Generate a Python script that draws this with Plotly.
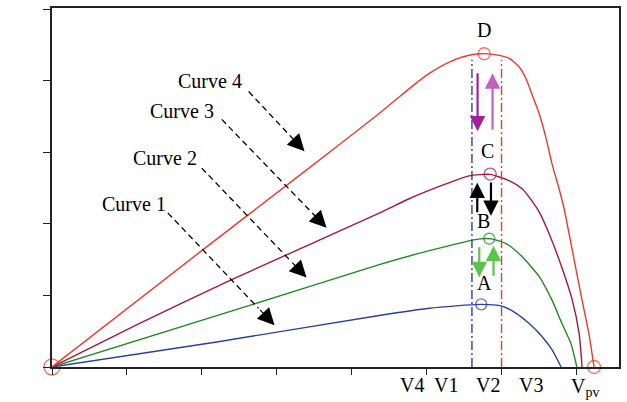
import plotly.graph_objects as go

# ---------------- data ----------------
c4_x = [0, 2.00, 3.31, 4.37, 4.60, 4.81, 5.04, 5.27, 5.48, 5.71, 5.93, 6.11, 6.24, 6.33, 6.41,
        6.51, 6.60, 6.68, 6.77, 6.84, 6.95, 7.08, 7.17, 7.24]
c4_y = [0, 1.625, 2.68, 3.54, 3.74, 3.92, 4.10, 4.24, 4.33, 4.375, 4.36, 4.31, 4.19, 4.03, 3.81,
        3.53, 3.19, 2.83, 2.50, 2.21, 1.625, 0.93, 0.47, 0]
c3_x = [0, 1.17, 2.40, 4.37, 4.77, 5.27, 5.57, 5.85, 6.11, 6.28, 6.41, 6.51, 6.64, 6.81, 6.95, 7.04, 7.08]
c3_y = [0, 0.61, 1.22, 2.15, 2.35, 2.56, 2.67, 2.69, 2.60, 2.49, 2.32, 2.16, 1.86, 1.39, 0.93, 0.47, 0]
c2_x = [0, 2.64, 4.37, 5.04, 5.71, 5.87, 6.07, 6.28, 6.51, 6.68, 6.81, 6.93, 7.01]
c2_y = [0, 0.86, 1.43, 1.625, 1.79, 1.79, 1.72, 1.54, 1.26, 0.93, 0.61, 0.33, 0]
c1_x = [0, 2.20, 4.37, 5.04, 5.73, 6.01, 6.20, 6.37, 6.55, 6.68, 6.80]
c1_y = [0, 0.35, 0.72, 0.82, 0.875, 0.85, 0.75, 0.61, 0.42, 0.24, 0]

curve_names = ["Curve 1", "Curve 2", "Curve 3", "Curve 4"]
curve_label_x = [1.093, 1.507, 1.733, 2.107]
curve_label_y = [2.278, 2.917, 3.569, 4.0]
arrow_start_x = [1.547, 2.0, 2.267, 2.627]
arrow_start_y = [2.153, 2.778, 3.458, 3.847]
arrow_tip_x = [2.973, 3.4, 3.667, 3.373]
arrow_tip_y = [0.583, 1.25, 1.944, 3.014]

point_names = ["A", "B", "C", "D"]
point_label_x = [5.773, 5.76, 5.813, 5.773]
point_label_y = [1.167, 2.042, 3.014, 4.708]

mpp_x = [0, 5.733, 5.84, 5.853, 5.773, 7.24]
mpp_y = [0, 0.875, 1.792, 2.694, 4.375, 0]

vline_x = [5.609, 6.004]
vline_top = 4.29

tick_labels = ["V4", "V1", "V2", "V3"]
tick_label_x = [4.804, 5.263, 5.817, 6.396]

# perturbation arrows: (x, y_from, y_to)
pert_x = [5.684, 5.884, 5.68, 5.863, 5.707, 5.897]
pert_from = [4.125, 3.292, 2.139, 2.597, 1.694, 1.254]
pert_to = [3.292, 4.101, 2.574, 2.111, 1.254, 1.694]
pert_color = ["#a0209e", "#c460c2", "#000000", "#000000", "#5cc44a", "#5cc44a"]

# ---------------- styles ----------------
RED = "#ea3a2c"
DRED = "#a3193c"
GREEN = "#1e8a1e"
BLUE = "#2b3fa3"
FONT = "Liberation Serif"
FS = 20

fig = go.Figure()
for xs, ys, col in [(c1_x, c1_y, BLUE), (c2_x, c2_y, GREEN), (c3_x, c3_y, DRED), (c4_x, c4_y, RED)]:
    fig.add_trace(go.Scatter(x=xs, y=ys, mode="lines",
                             line=dict(color=col, width=1.4, shape="spline", smoothing=0.6),
                             showlegend=False, hoverinfo="skip"))

fig.add_trace(go.Scatter(
    x=mpp_x, y=mpp_y, mode="markers", cliponaxis=False, showlegend=False, hoverinfo="skip",
    marker=dict(symbol="circle-open", size=[16, 11, 11, 12, 12, 13],
                color=[RED, BLUE, GREEN, DRED, RED, RED], line=dict(width=1.4))))

shapes = []
for vx, col in zip(vline_x, [BLUE, RED]):
    shapes.append(dict(type="line", x0=vx, x1=vx, y0=0, y1=vline_top, xref="x", yref="y",
                       line=dict(color=col, width=1.4, dash="9px,3px,2px,3px")))

annotations = []
for nm, lx, ly, sx, sy, tx, ty in zip(curve_names, curve_label_x, curve_label_y,
                                      arrow_start_x, arrow_start_y, arrow_tip_x, arrow_tip_y):
    annotations.append(dict(x=lx, y=ly, text=nm, showarrow=False, xref="x", yref="y",
                            font=dict(family=FONT, size=FS, color="black")))
    f = 0.85
    mx = sx + (tx - sx) * f
    my = sy + (ty - sy) * f
    shapes.append(dict(type="line", x0=sx, y0=sy, x1=mx, y1=my, xref="x", yref="y",
                       line=dict(color="black", width=1.3, dash="6px,4px")))
    annotations.append(dict(x=tx, y=ty, ax=mx, ay=my, axref="x", ayref="y", xref="x", yref="y",
                            text="", showarrow=True, arrowhead=2, arrowsize=2.6, arrowwidth=1.3,
                            arrowcolor="black", standoff=0))

for nm, lx, ly in zip(point_names, point_label_x, point_label_y):
    annotations.append(dict(x=lx, y=ly, text=nm, showarrow=False, xref="x", yref="y",
                            font=dict(family=FONT, size=FS, color="black")))

for px, y0, y1, col in zip(pert_x, pert_from, pert_to, pert_color):
    annotations.append(dict(x=px, y=y1, ax=px, ay=y0, axref="x", ayref="y", xref="x", yref="y",
                            text="", showarrow=True, arrowhead=2, arrowsize=1.4, arrowwidth=2.2,
                            arrowcolor=col, standoff=0))

for t, tx in zip(tick_labels, tick_label_x):
    annotations.append(dict(x=tx, y=0, text=t, showarrow=False, xref="x", yref="y",
                            yshift=-18, font=dict(family=FONT, size=FS, color="black")))
annotations.append(dict(x=7.12, y=0, text="V<sub>pv</sub>", showarrow=False, xref="x", yref="y",
                        yshift=-20, font=dict(family=FONT, size=FS, color="black")))
annotations.append(dict(x=-0.40, y=2.52, text="P<sub>pv</sub>", showarrow=False, xref="x", yref="y",
                        textangle=-90, font=dict(family=FONT, size=FS, color="black")))

fig.update_layout(
    width=627, height=402,
    margin=dict(l=52, r=7, t=6, b=35),
    paper_bgcolor="white", plot_bgcolor="white",
    shapes=shapes, annotations=annotations,
    xaxis=dict(range=[0, 7.573], tickvals=[0, 1, 2, 3, 4, 5, 6, 7], showticklabels=False,
               ticks="outside", ticklen=6, tickwidth=1.3, tickcolor="#222",
               showline=True, linecolor="#222", linewidth=1.5, mirror=True,
               showgrid=False, zeroline=False),
    yaxis=dict(range=[0, 5.014], tickvals=[0, 1, 2, 3, 4, 5], showticklabels=False,
               ticks="outside", ticklen=7, tickwidth=1.3, tickcolor="#222",
               showline=True, linecolor="#222", linewidth=1.5, mirror=True,
               showgrid=False, zeroline=False),
)

fig.write_html("out.html", config={"displayModeBar": False},
               post_script="document.body.style.margin='0';document.body.style.overflow='hidden';")
